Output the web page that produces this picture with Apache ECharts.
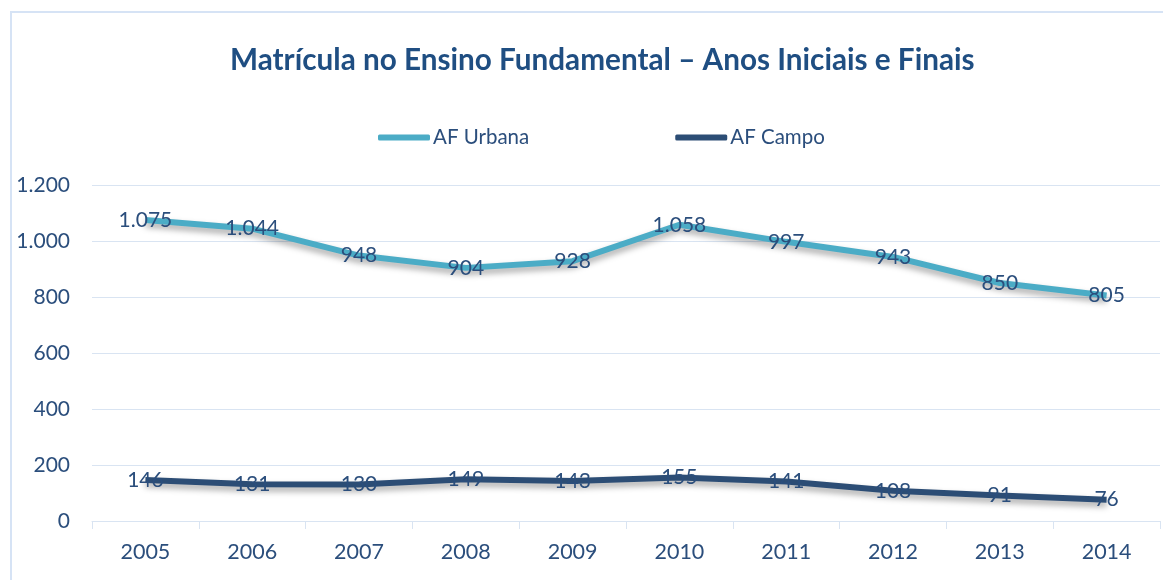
<!DOCTYPE html>
<html>
<head>
<meta charset="utf-8">
<script src="https://cdn.jsdelivr.net/npm/echarts@6/dist/echarts.min.js"></script>
<style>
  html, body { margin: 0; padding: 0; background: #fff; }
  #chart { width: 1163px; height: 580px; }
</style>
</head>
<body>
<div id="chart"></div>
<script>
var anos = ['2005', '2006', '2007', '2008', '2009', '2010', '2011', '2012', '2013', '2014'];
var afUrbana = [1075, 1044, 948, 904, 928, 1058, 997, 943, 850, 805];
var afCampo = [146, 131, 130, 149, 143, 155, 141, 108, 91, 76];

var textColor = '#2b4e7c';
var gridColor = '#d9e4f2';

function fmt(v) {
    // separador de milhar com ponto
    return String(v).replace(/\B(?=(\d{3})+(?!\d))/g, '.');
}

function serie(nome, dados, cor) {
    return {
        name: nome,
        type: 'line',
        data: dados,
        symbol: 'circle',
        symbolSize: 0,
        showSymbol: true,
        lineStyle: {
            width: 6,
            color: cor,
            shadowColor: 'rgba(0,0,0,0.35)',
            shadowBlur: 6,
            shadowOffsetY: 4
        },
        itemStyle: { color: cor },
        label: {
            show: true,
            position: 'inside',
            color: textColor,
            fontFamily: 'Lato',
            fontSize: 21,
            formatter: function (p) { return fmt(p.value); }
        }
    };
}

var chart = echarts.init(document.getElementById('chart'));
chart.setOption({
    animation: false,
    backgroundColor: '#fff',
    graphic: [{
        type: 'rect',
        shape: { x: 11, y: 12, width: 1200, height: 620 },
        style: { fill: 'none', stroke: '#d6e3f5', lineWidth: 2 },
        silent: true
    }],
    title: {
        text: 'Matrícula no Ensino Fundamental – Anos Iniciais e Finais',
        left: 225,
        top: 40,
        textStyle: { color: '#1f4e82', fontFamily: 'Lato', fontWeight: 'bold', fontSize: 29.7 }
    },
    legend: {
        top: 122,
        left: 373,
        itemWidth: 52,
        itemHeight: 6,
        itemGap: 146,
        icon: 'roundRect',
        textStyle: { color: textColor, fontFamily: 'Lato', fontSize: 20.5, padding: [0, 0, 0, -2] },
        data: ['AF Urbana', 'AF Campo']
    },
    grid: { left: 92, right: 3, top: 185, bottom: 59 },
    xAxis: {
        type: 'category',
        data: anos,
        axisLine: { lineStyle: { color: gridColor, width: 1 } },
        axisTick: { show: true, length: 8, lineStyle: { color: gridColor } },
        axisLabel: { color: textColor, fontFamily: 'Lato', fontSize: 21.5, margin: 20 }
    },
    yAxis: {
        type: 'value',
        min: 0,
        max: 1200,
        interval: 200,
        axisLine: { show: false },
        axisTick: { show: false },
        splitLine: { lineStyle: { color: gridColor, width: 1 } },
        axisLabel: { color: textColor, fontFamily: 'Lato', fontSize: 21, margin: 22, formatter: fmt }
    },
    series: [
        serie('AF Urbana', afUrbana, '#4bacc6'),
        serie('AF Campo', afCampo, '#2c4d75')
    ]
});
</script>
</body>
</html>
